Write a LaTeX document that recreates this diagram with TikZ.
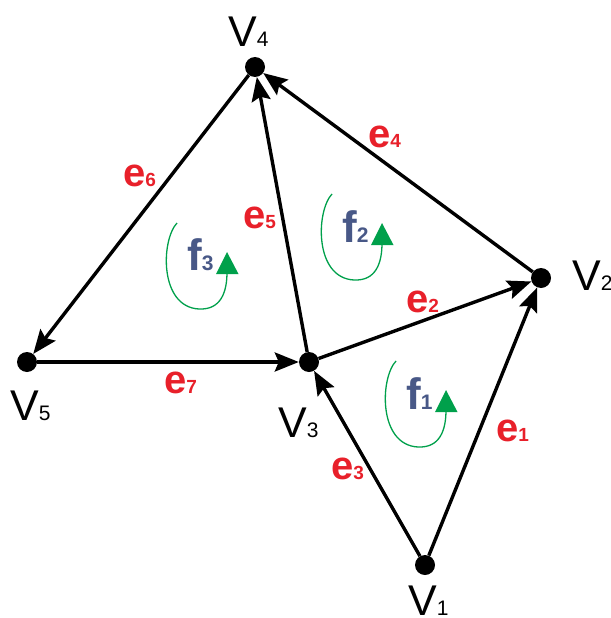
\documentclass[tikz,border=0pt]{standalone}
\usepackage{fontspec}
\setmainfont{Liberation Sans}
\usetikzlibrary{arrows.meta}
\definecolor{ered}{RGB}{232,32,42}
\definecolor{fblue}{RGB}{72,88,135}
\definecolor{fgreen}{RGB}{0,160,75}
\newcommand\vsubx[1]{{\fontsize{21}{21}\selectfont #1}}
\newcommand\esubx[1]{{\fontsize{19}{19}\selectfont #1}}
\newcommand\fsubx[1]{{\fontsize{21}{21}\selectfont #1}}
\tikzset{
  faceloop/.pic={
    \draw[fgreen,line width=1.3pt] (-50,-29) .. controls (-66,-12) and (-68,55) .. (-28,57) .. controls (-6,58) and (0,40) .. (0,20);
    \fill[fgreen] (0,0) -- (-11,22) -- (11.5,22) -- cycle;
  }
}
\begin{document}
\begin{tikzpicture}[x=1pt,y=-1pt,
  vert/.style={circle,fill=black,minimum size=20pt,inner sep=0pt},
  edge/.style={line width=3.4pt,-{Stealth[length=24pt,width=19pt,inset=4pt]}},
  vlab/.style={anchor=base west,inner sep=0pt,font=\fontsize{43}{43}\selectfont},
  elab/.style={anchor=base west,inner sep=0pt,text=ered,font=\bfseries\fontsize{40}{40}\selectfont},
  flab/.style={anchor=base west,inner sep=0pt,text=fblue,font=\bfseries\fontsize{44}{44}\selectfont}]
\useasboundingbox (0,0) rectangle (610,618);
% vertices
\node[vert] (v1) at (425,565) {};
\node[vert] (v2) at (541,278) {};
\node[vert] (v3) at (309,362) {};
\node[vert] (v4) at (255,67) {};
\node[vert] (v5) at (27,362) {};
% edges
\draw[edge] (v1) -- (v2);
\draw[edge] (v3) -- (v2);
\draw[edge] (v1) -- (v3);
\draw[edge] (v2) -- (v4);
\draw[edge] (v3) -- (v4);
\draw[edge] (v4) -- (v5);
\draw[edge] (v5) -- (v3);
% vertex labels
\node[vlab] (l1) at (408,615) {V\vsubx{1}};
\node[vlab] (l2) at (572,290) {V\vsubx{2}};
\node[vlab] (l3) at (278,437) {V\vsubx{3}};
\node[vlab] (l4) at (228,47) {V\vsubx{4}};
\node[vlab] (l5) at (10,420) {V\vsubx{5}};
% edge labels
\node[elab] (e1) at (496,441) {e\esubx{1}};
\node[elab] (e2) at (406,312) {e\esubx{2}};
\node[elab] (e3) at (331,479) {e\esubx{3}};
\node[elab] (e4) at (368,147) {e\esubx{4}};
\node[elab] (e5) at (243,228) {e\esubx{5}};
\node[elab] (e6) at (123,186) {e\esubx{6}};
\node[elab] (e7) at (164,393) {e\esubx{7}};
% faces
\pic (p1) at (446,390) {faceloop};
\pic (p2) at (382,223) {faceloop};
\pic (p3) at (227,252) {faceloop};
\node[flab] (f1) at (406,409) {f\fsubx{1}};
\node[flab] (f2) at (342,242) {f\fsubx{2}};
\node[flab] (f3) at (187,270) {f\fsubx{3}};
\end{tikzpicture}
\end{document}
